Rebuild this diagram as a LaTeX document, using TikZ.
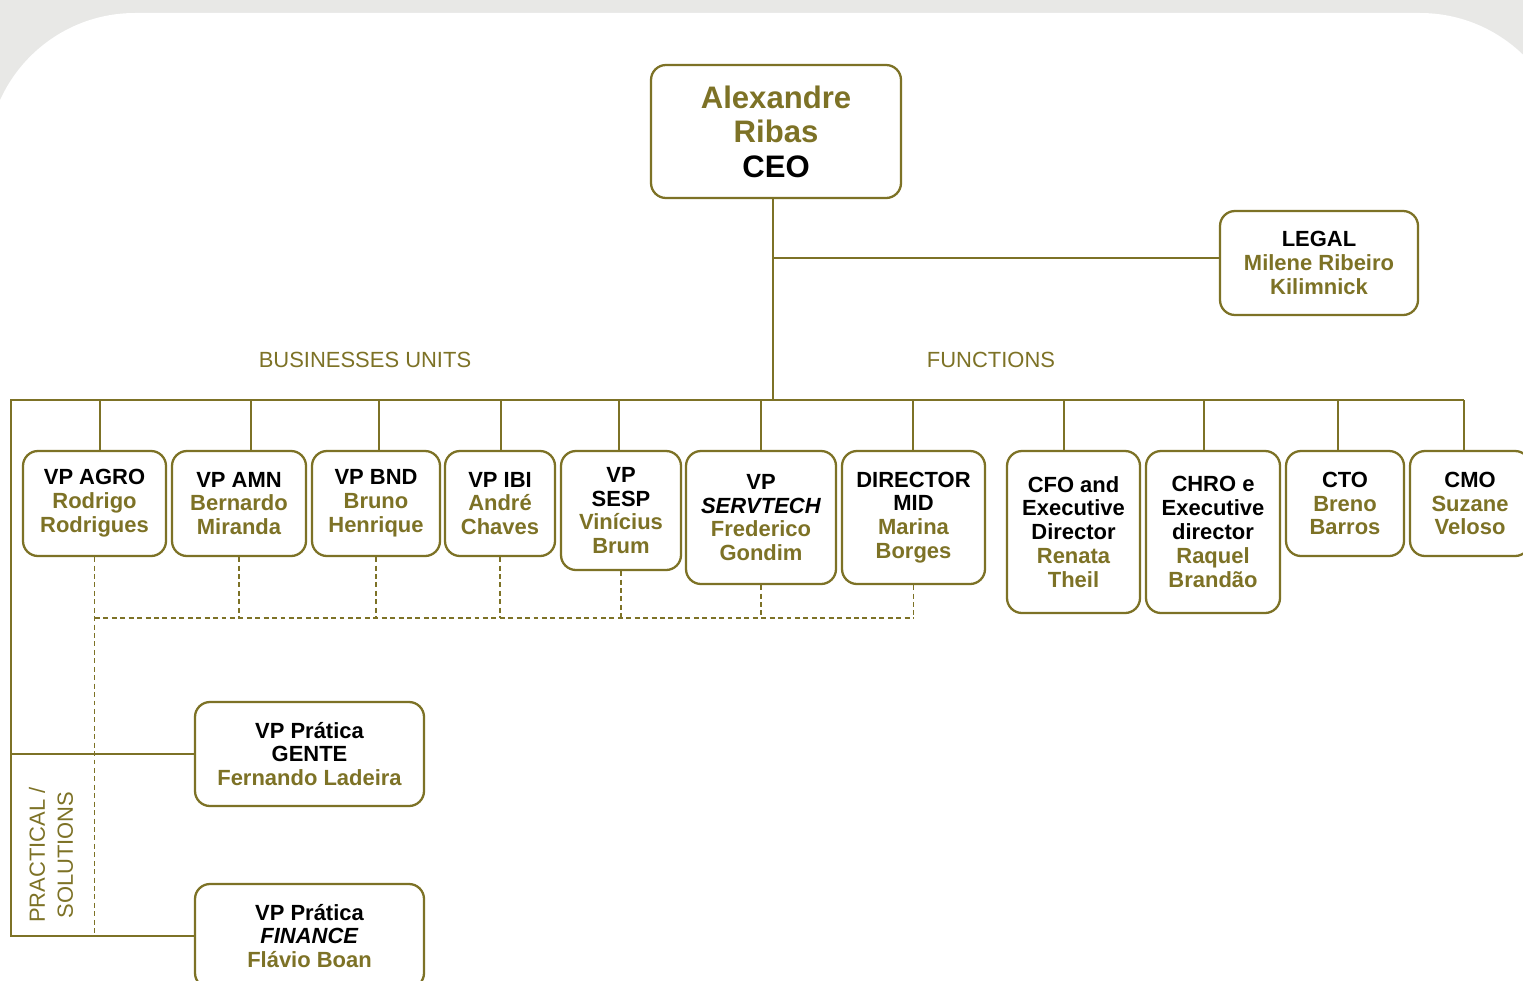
\documentclass[tikz,border=0pt]{standalone}
\usepackage{fontspec}
\setmainfont{Liberation Sans}
\usetikzlibrary{calc}
\definecolor{oliva}{RGB}{125,114,38}
\definecolor{fundo}{RGB}{232,232,230}
\newcommand{\nm}[1]{\textcolor{oliva}{#1}}
\tikzset{
  cargo/.style={draw=oliva,line width=1.3pt,rounded corners=0.3cm,fill=white,align=center,inner sep=0pt,
    font=\bfseries\fontsize{12.5}{13.6}\selectfont},
  tam/.style 2 args={minimum width=#1*0.02cm,minimum height=#2*0.02cm},
  liga/.style={draw=oliva,line width=0.8pt},
  pont/.style={draw=oliva,line width=0.8pt,dash pattern=on 2.8pt off 2pt},
  rotulo/.style={text=oliva,font=\fontsize{12.5}{15.9}\selectfont}
}

\begin{document}
\begin{tikzpicture}[x=0.02cm,y=-0.02cm]
\useasboundingbox (0,0) rectangle (1523,980);
\clip (0,0) rectangle (1523,980);

% fundo
\fill[fundo] (0,0) rectangle (1523,980);
\fill[white,rounded corners=148*0.02cm] (-13,13) rectangle (1568,1200);

% caixas
\node[cargo,tam={250}{133},font=\bfseries\fontsize{17.7}{19.6}\selectfont] (ceo) at (776,131.5) {\nm{Alexandre}\\\nm{Ribas}\\CEO};
\node[cargo,tam={198}{104}] (legal) at (1319,263) {LEGAL\\\nm{Milene Ribeiro}\\\nm{Kilimnick}};

\node[cargo,tam={143}{105}] (agro) at (94.5,503.5) {VP AGRO\\\nm{Rodrigo}\\\nm{Rodrigues}};
\node[cargo,tam={134}{105}] (amn) at (239,503.5) {VP AMN\\\nm{Bernardo}\\\nm{Miranda}};
\node[cargo,tam={128}{105}] (bnd) at (376,503.5) {VP BND\\\nm{Bruno}\\\nm{Henrique}};
\node[cargo,tam={110}{105}] (ibi) at (500,503.5) {VP IBI\\\nm{André}\\\nm{Chaves}};
\node[cargo,tam={120}{119}] (sesp) at (621,510.5) {VP\\SESP\\\nm{Vinícius}\\\nm{Brum}};
\node[cargo,tam={150}{133}] (servtech) at (761,517.5) {VP\\\textit{SERVTECH}\\\nm{Frederico}\\\nm{Gondim}};
\node[cargo,tam={143}{133}] (mid) at (913.5,517.5) {DIRECTOR\\MID\\\nm{Marina}\\\nm{Borges}};
\node[cargo,tam={133}{162}] (cfo) at (1073.5,532) {CFO and\\Executive\\Director\\\nm{Renata}\\\nm{Theil}};
\node[cargo,tam={134}{162}] (chro) at (1213,532) {CHRO e\\Executive\\director\\\nm{Raquel}\\\nm{Brandão}};
\node[cargo,tam={118}{105}] (cto) at (1345,503.5) {CTO\\\nm{Breno}\\\nm{Barros}};
\node[cargo,tam={120}{105}] (cmo) at (1470,503.5) {CMO\\\nm{Suzane}\\\nm{Veloso}};

\node[cargo,tam={229}{104}] (gente) at (309.5,754) {VP Prática\\GENTE\\\nm{Fernando Ladeira}};
\node[cargo,tam={229}{104}] (finance) at (309.5,936) {VP Prática\\\textit{FINANCE}\\\nm{Flávio Boan}};

% rotulos
\node[rotulo] (bu) at (365,360) {BUSINESSES UNITS};
\node[rotulo] (fn) at (991,360) {FUNCTIONS};
\node[rotulo,rotate=90,align=center] (ps) at (51,855) {PRACTICAL /\\SOLUTIONS};

% ligacoes
\coordinate (bus) at (773,400);
\coordinate (esq) at (11,400);
\coordinate (tr) at (95,618);
\coordinate (lg) at ([yshift=0.1cm]legal.west);
\draw[liga] (bus |- ceo.south) -- (bus);
\draw[liga] (bus |- lg) -- (lg);
\foreach \no/\xx in {agro/100,amn/251,bnd/379,ibi/501,sesp/619,servtech/761,mid/913,cfo/1064,chro/1204,cto/1338,cmo/1464}{
  \coordinate (t\no) at (\xx,400);
  \draw[liga] (t\no) -- (t\no |- \no.north);
}
\draw[liga] (finance.west) -| (esq) -- (tcmo);
\draw[liga] (gente.west) -- (gente.west -| esq);

% tracejado
\draw[pont] (agro.south) -- (agro.south |- finance.west);
\draw[pont] (tr) -- (tr -| mid.south);
\foreach \no in {amn,bnd,ibi,sesp,servtech,mid}
  \draw[pont] (\no.south) -- (\no.south |- tr);

\end{tikzpicture}
\end{document}
